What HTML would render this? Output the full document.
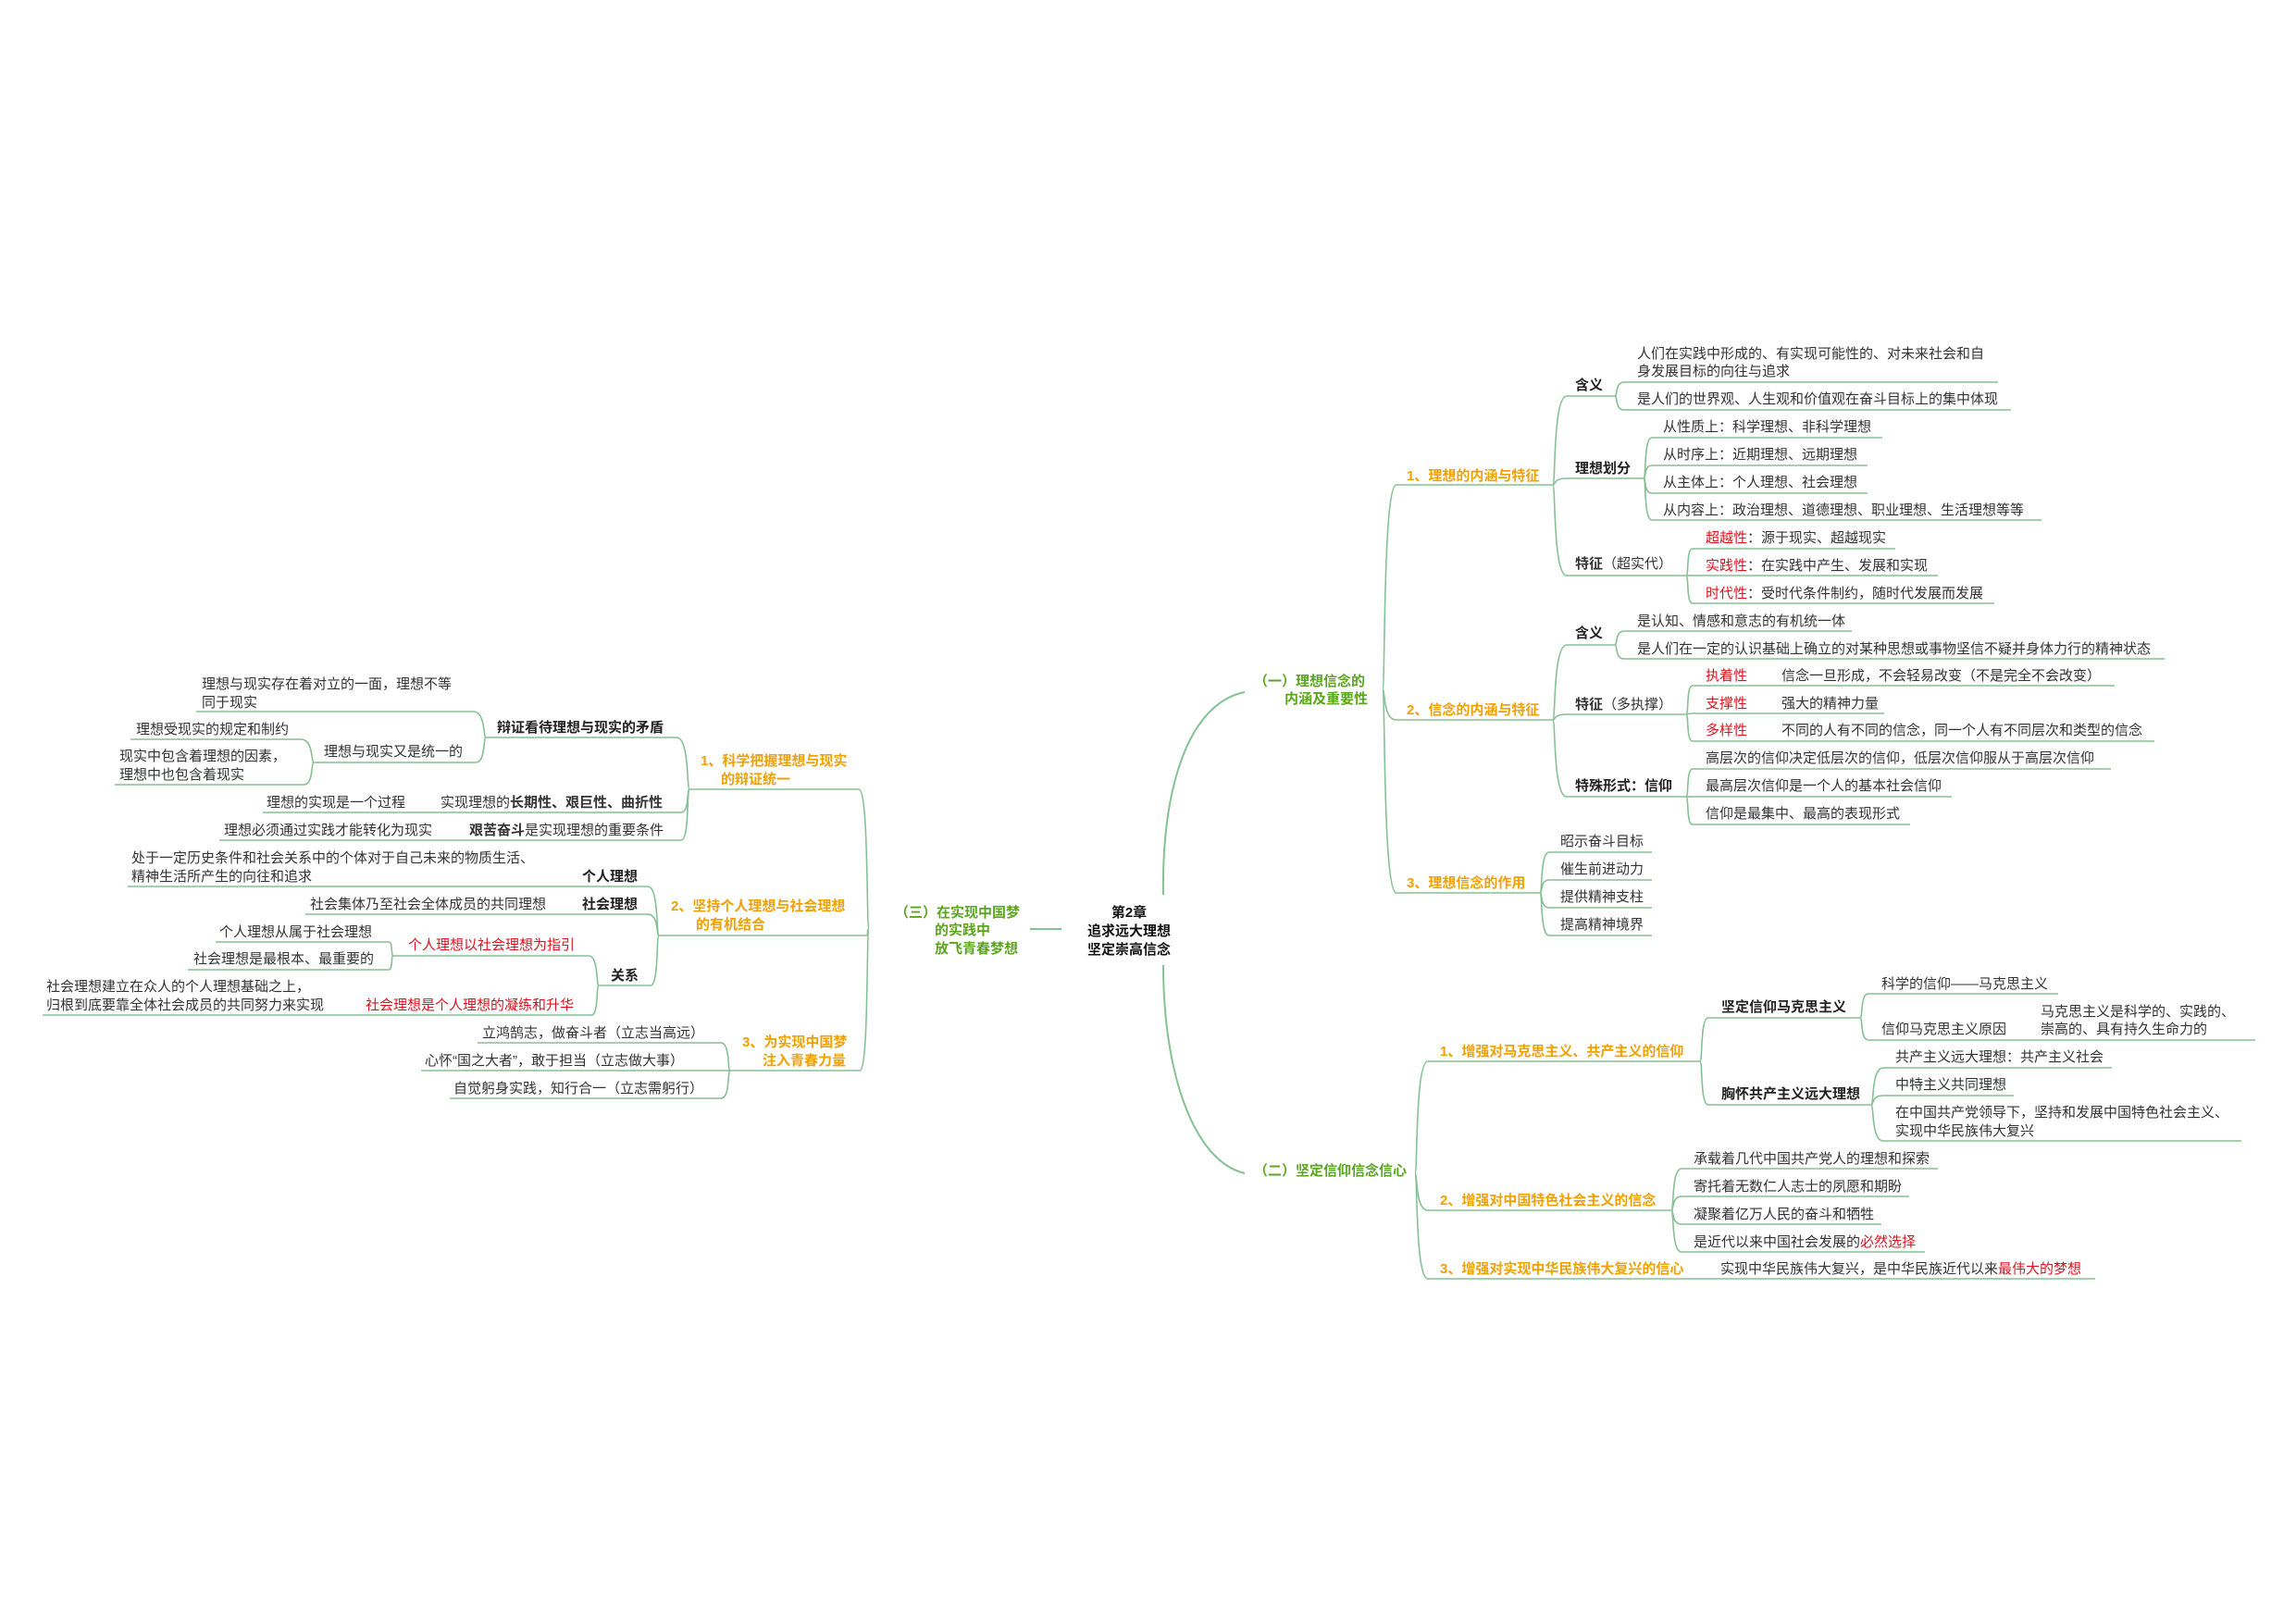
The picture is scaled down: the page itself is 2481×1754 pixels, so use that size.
<!DOCTYPE html>
<html><head><meta charset="utf-8">
<style>
html,body{margin:0;padding:0;background:#fff;}
#c{position:relative;width:2481px;height:1754px;overflow:hidden;background:#fff;}
svg{position:absolute;left:0;top:0;}
.t{position:absolute;white-space:nowrap;font-family:"Liberation Sans","Noto Sans CJK SC",sans-serif;font-size:15px;line-height:20px;color:#333;}
.b{font-weight:bold;color:#222;}
.o{font-weight:bold;color:#f0a000;}
.g{font-weight:bold;color:#5aa51e;}
.r{color:#d9141e;}
.k{font-weight:bold;color:#111;}
</style></head><body>
<div id="c">
<svg id="s" width="2481" height="1754" viewBox="0 0 2481 1754"></svg>
</div>
<script>
var S=document.getElementById('s'),C=document.getElementById('c');
var col='#86c095';
function path(d,w){var p=document.createElementNS('http://www.w3.org/2000/svg','path');p.setAttribute('d',d);p.setAttribute('stroke',col);p.setAttribute('stroke-width',w||1.6);p.setAttribute('fill','none');S.appendChild(p);}
function u(a,b,y){path('M'+a+' '+y+' L'+b+' '+y);}
// right connector from (px,py) to (cx,cy)
function cr(px,py,cx,cy){var m=px+(cx-px)*0.5;path('M'+px+' '+py+' C'+(px+3)+' '+py+' '+px+' '+(cy)+' '+cx+' '+cy);}
function cl(px,py,cx,cy){path('M'+px+' '+py+' C'+(px-3)+' '+py+' '+px+' '+(cy)+' '+cx+' '+cy);}
function t(x,y,h,c){var d=document.createElement('div');d.className='t '+(c||'');d.style.left=x+'px';d.style.top=(y-10)+'px';d.innerHTML=h;C.appendChild(d);}
// center curves
path('M1257 967 C1255 850 1285 760 1345 748',2);
path('M1257 1043 C1257 1160 1290 1255 1345 1268',2);
path('M1113 1004 L1147 1004',2);
// (一)
cr(1494,745,1509,524);u(1509,1678,524);
cr(1494,745,1509,778);u(1509,1678,778);
cr(1494,745,1509,965);u(1509,1664,965);
[[428,1745],[517,1776],[622,1822]].forEach(function(a){cr(1678,524,1693,a[0]);u(1693,a[1],a[0]);});
[[413,2159],[443,2173]].forEach(function(a){cr(1745,428,1755,a[0]);u(1755,a[1],a[0]);});
[[473,2034],[503,2018],[533,2018],[562,2206]].forEach(function(a){cr(1776,517,1785,a[0]);u(1785,a[1],a[0]);});
[[593,2048],[622,2094],[652,2155]].forEach(function(a){cr(1822,622,1829,a[0]);u(1829,a[1],a[0]);});
[[697,1745],[772,1822],[861,1822]].forEach(function(a){cr(1678,778,1693,a[0]);u(1693,a[1],a[0]);});
[[682,2001],[712,2339]].forEach(function(a){cr(1745,697,1755,a[0]);u(1755,a[1],a[0]);});
[[741,2285],[771,2036],[801,2328]].forEach(function(a){cr(1822,772,1829,a[0]);u(1829,a[1],a[0]);});
[[831,2281],[861,2109],[891,2064]].forEach(function(a){cr(1822,861,1829,a[0]);u(1829,a[1],a[0]);});
[921,951,981,1011].forEach(function(y){cr(1664,965,1674,y);u(1674,1785,y);});
// (二)
cr(1529,1268,1543,1147);u(1543,1837,1147);
cr(1529,1268,1543,1308);u(1543,1806,1308);
cr(1529,1268,1543,1382);u(1543,2264,1382);
[[1100,2010],[1194,2022]].forEach(function(a){cr(1837,1147,1846,a[0]);u(1846,a[1],a[0]);});
[[1074,2224],[1124,2437]].forEach(function(a){cr(2010,1100,2019,a[0]);u(2019,a[1],a[0]);});
[[1154,2282],[1184,2176],[1233,2422]].forEach(function(a){cr(2022,1194,2035,a[0]);u(2035,a[1],a[0]);});
[[1263,2094],[1293,2063],[1323,2033],[1353,2080]].forEach(function(a){cr(1806,1308,1817,a[0]);u(1817,a[1],a[0]);});
// (三)
cl(939,1004,928,853);u(745,928,853);
cl(939,1004,936,1011);u(712,936,1011);
cl(939,1004,929,1157);u(789,929,1157);
[[797,525,731],[878,284,736],[908,237,736]].forEach(function(a){cl(745,853,a[2],a[0]);u(a[1],a[2],a[0]);});
[[769,212,511],[824,339,514]].forEach(function(a){cl(525,797,a[2],a[0]);u(a[1],a[2],a[0]);});
[[799,141,325],[848,124,328]].forEach(function(a){cl(339,824,a[2],a[0]);u(a[1],a[2],a[0]);});
[[958,138,700],[988,330,700],[1065,647,703]].forEach(function(a){cl(712,1011,a[2],a[0]);u(a[1],a[2],a[0]);});
[[1033,425,636],[1097,46,639]].forEach(function(a){cl(647,1065,a[2],a[0]);u(a[1],a[2],a[0]);});
[[1018,233,420],[1048,203,420]].forEach(function(a){cl(425,1033,a[2],a[0]);u(a[1],a[2],a[0]);});
[[1127,516,779],[1157,455,789],[1187,486,779]].forEach(function(a){cl(789,1157,a[2],a[0]);u(a[1],a[2],a[0]);});

// texts
var d=document.createElement('div');d.className='t k';d.style.left='1120px';d.style.top='977px';d.style.width='200px';d.style.textAlign='center';d.innerHTML='第2章<br>追求远大理想<br>坚定崇高信念';C.appendChild(d);
t(967,987,'（三）在实现中国梦','g');t(1010,1006,'的实践中','g');t(1010,1026,'放飞青春梦想','g');
t(1355,737,'（一）理想信念的','g');t(1388,756,'内涵及重要性','g');
t(1520,515,'1、理想的内涵与特征','o');
t(1702,417,'含义','b');t(1769,383,'人们在实践中形成的、有实现可能性的、对未来社会和自');t(1769,402,'身发展目标的向往与追求');t(1769,432,'是人们的世界观、人生观和价值观在奋斗目标上的集中体现');
t(1702,507,'理想划分','b');t(1797,462,'从性质上：科学理想、非科学理想');t(1797,492,'从时序上：近期理想、远期理想');t(1797,522,'从主体上：个人理想、社会理想');t(1797,552,'从内容上：政治理想、道德理想、职业理想、生活理想等等');
t(1702,610,'<b>特征</b>（超实代）');
t(1843,582,'<span class="r">超越性</span>：源于现实、超越现实');t(1843,612,'<span class="r">实践性</span>：在实践中产生、发展和实现');t(1843,642,'<span class="r">时代性</span>：受时代条件制约，随时代发展而发展');
t(1520,768,'2、信念的内涵与特征','o');
t(1702,685,'含义','b');t(1769,672,'是认知、情感和意志的有机统一体');t(1769,702,'是人们在一定的认识基础上确立的对某种思想或事物坚信不疑并身体力行的精神状态');
t(1702,762,'<b>特征</b>（多执撑）');
t(1843,731,'执着性','r');t(1925,731,'信念一旦形成，不会轻易改变（不是完全不会改变）');
t(1843,761,'支撑性','r');t(1925,761,'强大的精神力量');
t(1843,790,'多样性','r');t(1925,790,'不同的人有不同的信念，同一个人有不同层次和类型的信念');
t(1702,850,'特殊形式：信仰','b');t(1843,820,'高层次的信仰决定低层次的信仰，低层次信仰服从于高层次信仰');t(1843,850,'最高层次信仰是一个人的基本社会信仰');t(1843,880,'信仰是最集中、最高的表现形式');
t(1520,955,'3、理想信念的作用','o');
t(1686,910,'昭示奋斗目标');t(1686,940,'催生前进动力');t(1686,970,'提供精神支柱');t(1686,1000,'提高精神境界');
t(1355,1266,'（二）坚定信仰信念信心','g');
t(1556,1137,'1、增强对马克思主义、共产主义的信仰','o');
t(1860,1089,'坚定信仰马克思主义','b');t(2033,1064,'科学的信仰——马克思主义');t(2033,1113,'信仰马克思主义原因');t(2205,1094,'马克思主义是科学的、实践的、');t(2205,1113,'崇高的、具有持久生命力的');
t(1860,1183,'胸怀共产主义远大理想','b');t(2048,1143,'共产主义远大理想：共产主义社会');t(2048,1173,'中特主义共同理想');t(2048,1203,'在中国共产党领导下，坚持和发展中国特色社会主义、');t(2048,1223,'实现中华民族伟大复兴');
t(1556,1298,'2、增强对中国特色社会主义的信念','o');
t(1830,1253,'承载着几代中国共产党人的理想和探索');t(1830,1283,'寄托着无数仁人志士的夙愿和期盼');t(1830,1313,'凝聚着亿万人民的奋斗和牺牲');t(1830,1343,'是近代以来中国社会发展的<span class="r">必然选择</span>');
t(1556,1372,'3、增强对实现中华民族伟大复兴的信心','o');t(1859,1372,'实现中华民族伟大复兴，是中华民族近代以来<span class="r">最伟大的梦想</span>');
// left
t(757,823,'1、科学把握理想与现实','o');t(779,843,'的辩证统一','o');
t(537,787,'辩证看待理想与现实的矛盾','b');
t(218,740,'理想与现实存在着对立的一面，理想不等');t(218,760,'同于现实');
t(350,813,'理想与现实又是统一的');t(147,789,'理想受现实的规定和制约');
t(129,818,'现实中包含着理想的因素，');t(129,838,'理想中也包含着现实');
t(288,868,'理想的实现是一个过程');t(476,868,'实现理想的<b>长期性、艰巨性、曲折性</b>');
t(242,898,'理想必须通过实践才能转化为现实');t(507,898,'<b>艰苦奋斗</b>是实现理想的重要条件');
t(725,980,'2、坚持个人理想与社会理想','o');t(752,1000,'的有机结合','o');
t(142,928,'处于一定历史条件和社会关系中的个体对于自己未来的物质生活、');t(142,948,'精神生活所产生的向往和追求');t(629,948,'个人理想','b');
t(335,978,'社会集体乃至社会全体成员的共同理想');t(629,978,'社会理想','b');
t(660,1055,'关系','b');
t(441,1022,'个人理想以社会理想为指引','r');
t(237,1008,'个人理想从属于社会理想');t(209,1037,'社会理想是最根本、最重要的');
t(50,1067,'社会理想建立在众人的个人理想基础之上，');t(50,1087,'归根到底要靠全体社会成员的共同努力来实现');t(395,1087,'社会理想是个人理想的凝练和升华','r');
t(802,1127,'3、为实现中国梦','o');t(824,1147,'注入青春力量','o');
t(521,1117,'立鸿鹄志，做奋斗者（立志当高远）');t(459,1147,'心怀“国之大者”，敢于担当（立志做大事）');t(490,1177,'自觉躬身实践，知行合一（立志需躬行）');
</script>
</body></html>
